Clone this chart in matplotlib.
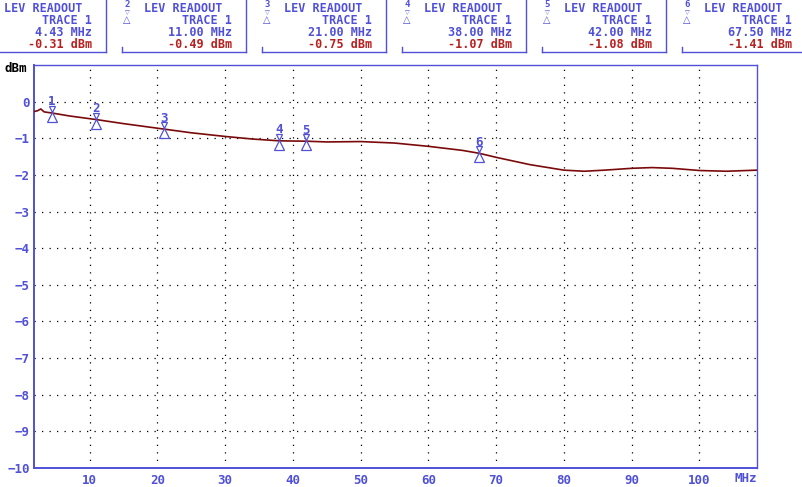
import matplotlib
matplotlib.use("Agg")
import matplotlib.pyplot as plt
import matplotlib.transforms as mtransforms
from matplotlib.lines import Line2D

# trace data (MHz, dBm)
freq = [1.8, 2.3, 2.8, 3.3, 4.43, 7, 11, 15, 21, 25, 30, 34, 38, 42, 45, 50,
        55, 60, 65, 67.5, 70, 75, 80, 83, 86, 90, 93, 96, 100, 104, 108.5]
level = [-0.27, -0.25, -0.2, -0.28, -0.31, -0.39, -0.49, -0.6, -0.75, -0.85,
         -0.95, -1.02, -1.07, -1.08, -1.1, -1.09, -1.13, -1.22, -1.33, -1.41,
         -1.52, -1.72, -1.87, -1.9, -1.87, -1.82, -1.8, -1.82, -1.88, -1.9, -1.87]

# markers (level readouts)
marker_ids = ["1", "2", "3", "4", "5", "6"]
marker_freq = [4.43, 11.00, 21.00, 38.00, 42.00, 67.50]
marker_level = [-0.31, -0.49, -0.75, -1.07, -1.08, -1.41]

x_ticks = [10, 20, 30, 40, 50, 60, 70, 80, 90, 100]
y_ticks = [0, -1, -2, -3, -4, -5, -6, -7, -8, -9, -10]

BLUE = "#5050d8"
TRACE = "#7a0a0a"
RED = "#b82020"
MONO = "DejaVu Sans Mono"

W, H = 803, 487
fig = plt.figure(figsize=(W / 100, H / 100), dpi=100)
ax = fig.add_axes([34 / W, 1 - 468 / H, (757 - 34) / W, (468 - 65) / H])

ax.set_xlim(1.8, 108.5)
ax.set_ylim(-10, 1)

# dotted grid
for xv in x_ticks:
    ax.axvline(xv, color="black", lw=0.9, ls=(0, (1, 5)), zorder=1)
for yv in y_ticks[:-1]:
    ax.axhline(yv, color="black", lw=0.9, ls=(0, (1, 5)), zorder=1)

ax.plot(freq, level, color=TRACE, lw=1.2, zorder=3)

# marker symbols: number, small down triangle, up triangle
for mid, mf, ml in zip(marker_ids, marker_freq, marker_level):
    t_num = mtransforms.offset_copy(ax.transData, fig=fig, y=11, units="dots")
    t_dn = mtransforms.offset_copy(ax.transData, fig=fig, y=4, units="dots")
    t_up = mtransforms.offset_copy(ax.transData, fig=fig, y=-4, units="dots")
    ax.text(mf, ml, mid, transform=t_num, color=BLUE, fontsize=9,
            family=MONO, fontweight="bold", ha="center", va="center",
            zorder=4)
    ax.plot([mf], [ml], marker="v", ms=4.5, mfc="none", mec=BLUE, mew=0.9,
            transform=t_dn, zorder=4)
    ax.plot([mf], [ml], marker="^", ms=6.5, mfc="none", mec=BLUE, mew=0.9,
            transform=t_up, zorder=4)

for s in ax.spines.values():
    s.set_color(BLUE)
    s.set_linewidth(1.0)
ax.spines["left"].set_linewidth(1.4)
ax.spines["bottom"].set_linewidth(1.4)

ax.set_xticks(x_ticks)
ax.set_xticklabels([str(v) for v in x_ticks])
ax.set_yticks(y_ticks)
ax.set_yticklabels([str(v) if v == 0 else "\u2212" + str(-v) for v in y_ticks])
ax.tick_params(length=0, colors=BLUE, labelsize=9, pad=4)
for lbl in ax.get_xticklabels() + ax.get_yticklabels():
    lbl.set_family(MONO)
    lbl.set_fontweight("bold")
ax.tick_params(axis="y", pad=3)

fig.text(5 / W, 1 - 69 / H, "dBm", color="black", fontsize=9, family=MONO,
         fontweight="bold", ha="left", va="center")
fig.text(757 / W, 1 - 478 / H, "MHz", color=BLUE, fontsize=9, family=MONO,
         fontweight="bold", ha="right", va="center")


def fx(px):
    return px / W


def fy(py):
    return 1 - py / H


# readout boxes across the top
for i, (mid, mf, ml) in enumerate(zip(marker_ids, marker_freq, marker_level)):
    right = 106 + 140 * i
    left = right - 124
    fig.add_artist(Line2D([fx(left), fx(right)], [fy(52), fy(52)],
                          color=BLUE, lw=1.0))
    fig.add_artist(Line2D([fx(right), fx(right)], [fy(0), fy(52)],
                          color=BLUE, lw=1.0))
    fig.add_artist(Line2D([fx(left), fx(left)], [fy(47), fy(52)],
                          color=BLUE, lw=1.0))
    fig.text(fx(left + 22), fy(9), "LEV READOUT", color=BLUE, fontsize=8.5,
             family=MONO, fontweight="bold", ha="left", va="center")
    fig.text(fx(right - 14), fy(20.5), "TRACE 1", color=BLUE, fontsize=8.5,
             family=MONO, fontweight="bold", ha="right", va="center")
    fig.text(fx(right - 14), fy(32.5), f"{mf:.2f} MHz", color=BLUE,
             fontsize=8.5, family=MONO, fontweight="bold", ha="right",
             va="center")
    fig.text(fx(right - 14), fy(44), f"-{abs(ml):.2f} dBm", color=RED,
             fontsize=8.5, family=MONO, fontweight="bold", ha="right",
             va="center")
    sx = left + 5
    if sx > 0:
        fig.text(fx(sx), fy(4.5), mid, color=BLUE, fontsize=6.5, family=MONO,
                 fontweight="bold", ha="center", va="center")
        fig.text(fx(sx), fy(12.5), "\u25bd", color=BLUE, fontsize=4.5,
                 family="DejaVu Sans", ha="center", va="center")
        fig.text(fx(sx), fy(20.5), "\u25b3", color=BLUE, fontsize=7,
                 family="DejaVu Sans", ha="center", va="center")

fig.savefig("out.png", dpi=100)
